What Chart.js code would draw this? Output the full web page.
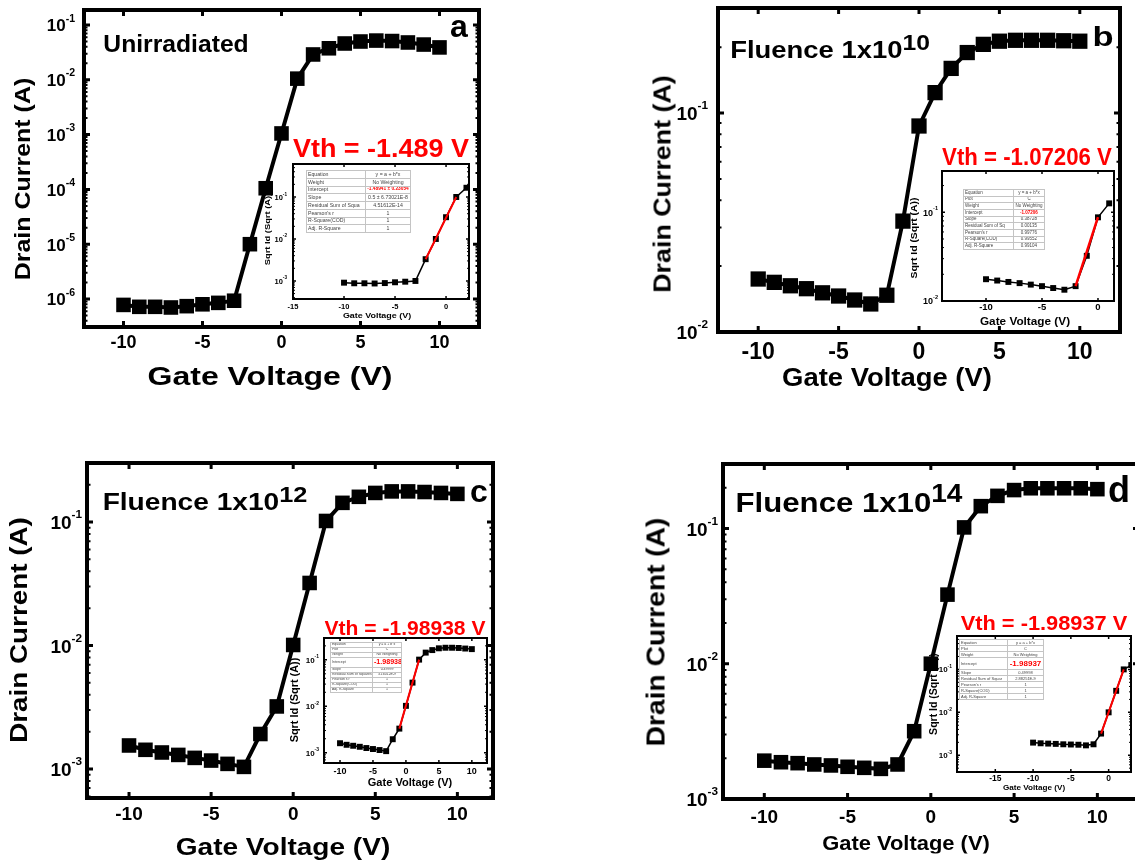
<!DOCTYPE html>
<html>
<head>
<meta charset="utf-8">
<script src="https://cdn.jsdelivr.net/npm/chart.js@4.4.0/dist/chart.umd.min.js"></script>
<style>
html, body { margin: 0; padding: 0; overflow: hidden; }
body { width: 1135px; height: 863px; position: relative; background: #fff; font-family: "Liberation Sans", Arial, sans-serif; }
canvas { position: absolute; left: 0; top: 0; }
.lbl { position: absolute; white-space: nowrap; font-weight: bold; line-height: 1; color: #000; }
.sp { font-size: 0.9em; position: relative; top: -0.39em; }
table.fit { position: absolute; border-collapse: collapse; table-layout: fixed; background: #fff; border: 1.5px solid #444; }
table.fit td { border: 1px solid #c4c4c4; padding: 0 1px; color: #444; white-space: nowrap; overflow: hidden; line-height: 1; }
table.fit td.v { text-align: center; }
</style>
</head>
<body>
<script>
// gate voltage sweep (V)
const gateV = [-10, -9, -8, -7, -6, -5, -4, -3, -2, -1, 0, 1, 2, 3, 4, 5, 6, 7, 8, 9, 10];

// drain current (A), main panels
const idUnirr = [7.8e-7, 7.2e-7, 7.2e-7, 7.0e-7, 7.4e-7, 8.0e-7, 8.5e-7, 9.3e-7, 1.0e-5, 1.05e-4, 1.05e-3, 1.05e-2, 0.029, 0.0376, 0.046, 0.050, 0.052, 0.051, 0.048, 0.044, 0.039];
const idF10 = [0.01746, 0.01686, 0.01626, 0.01577, 0.0151, 0.0146, 0.0140, 0.01343, 0.01472, 0.0321, 0.0873, 0.124, 0.160, 0.189, 0.206, 0.213, 0.215, 0.215, 0.215, 0.214, 0.213];
const idF12 = [1.55e-3, 1.43e-3, 1.36e-3, 1.30e-3, 1.23e-3, 1.17e-3, 1.10e-3, 1.04e-3, 1.92e-3, 3.21e-3, 0.0101, 0.0321, 0.102, 0.143, 0.160, 0.172, 0.177, 0.177, 0.175, 0.172, 0.169];
const idF14 = [1.92e-3, 1.87e-3, 1.84e-3, 1.80e-3, 1.77e-3, 1.73e-3, 1.70e-3, 1.67e-3, 1.80e-3, 3.17e-3, 0.0100, 0.0324, 0.1017, 0.146, 0.174, 0.192, 0.198, 0.198, 0.198, 0.198, 0.195];

// insets: sqrt Id vs gate voltage
const insetVA = [-10, -9, -8, -7, -6, -5, -4, -3, -2, -1, 0, 1, 2];
const insetA = [9.1e-4, 8.8e-4, 8.8e-4, 8.7e-4, 8.9e-4, 9.3e-4, 9.6e-4, 1.0e-3, 3.3e-3, 1.0e-2, 3.3e-2, 0.1, 0.166];
const insetVB = [-10, -9, -8, -7, -6, -5, -4, -3, -2, -1, 0, 1];
const insetB = [0.0176, 0.0170, 0.0164, 0.0159, 0.0153, 0.0147, 0.0140, 0.0134, 0.0147, 0.0323, 0.0877, 0.126];
const insetVC = gateV;
const insetC = [1.6e-3, 1.48e-3, 1.41e-3, 1.34e-3, 1.26e-3, 1.2e-3, 1.14e-3, 1.08e-3, 1.95e-3, 3.3e-3, 0.0102, 0.0323, 0.101, 0.143, 0.162, 0.177, 0.182, 0.182, 0.18, 0.175, 0.17];
const insetVD = [-10, -9, -8, -7, -6, -5, -4, -3, -2, -1, 0, 1, 2, 3];
const insetD = [1.97e-3, 1.9e-3, 1.87e-3, 1.84e-3, 1.8e-3, 1.78e-3, 1.76e-3, 1.7e-3, 1.8e-3, 3.2e-3, 0.01, 0.0317, 0.1, 0.126];

// linear fits (red)
const fitVA = [-2, 1], fitA = [3.3e-3, 0.1];
const fitVB = [-2, 0], fitB = [0.0147, 0.088];
const fitVC = [-1, 2], fitC = [3.3e-3, 0.101];
const fitVD = [-1, 2], fitD = [3.2e-3, 0.1];

// tick labels
const mainXTicks = [-10, -5, 0, 5, 10];
const expsA = [-1, -2, -3, -4, -5, -6];
const expsB = [-1, -2];
const expsCD = [-1, -2, -3];
const insetXTicksA = [-15, -10, -5, 0];
const insetXTicksB = [-10, -5, 0];
const insetXTicksC = [-10, -5, 0, 5, 10];
const insetXTicksD = [-15, -10, -5, 0];

const W = 1150, H = 863;
const FONT = '"Liberation Sans", Arial, sans-serif';

function drawPow(ctx, xr, y, e, size) {
  const s2 = size * 0.62;
  const sup = String(e);
  ctx.textAlign = 'left';
  ctx.textBaseline = 'middle';
  ctx.font = `bold ${s2}px ${FONT}`;
  const w2 = ctx.measureText(sup).width;
  ctx.font = `bold ${size}px ${FONT}`;
  const w1 = ctx.measureText('10').width;
  ctx.fillText('10', xr - w1 - w2, y + size * 0.1);
  ctx.font = `bold ${s2}px ${FONT}`;
  ctx.fillText(sup, xr - w2, y - size * 0.37);
}

const frameAxes = {
  id: 'frameAxes',
  beforeDatasetsDraw(chart, args, o) {
    if (!o.fill) return;
    const a = chart.chartArea, ctx = chart.ctx;
    ctx.save();
    ctx.fillStyle = '#fff';
    ctx.fillRect(a.left, a.top, a.right - a.left, a.bottom - a.top);
    ctx.restore();
  },
  afterDraw(chart, args, o) {
    const ctx = chart.ctx, a = chart.chartArea;
    const xs = chart.scales.x, ys = chart.scales.y;
    ctx.save();
    ctx.strokeStyle = '#000';
    ctx.fillStyle = '#000';

    // minor log ticks
    ctx.lineWidth = o.minorW;
    ctx.beginPath();
    const lo = Math.floor(Math.log10(ys.min)), hi = Math.ceil(Math.log10(ys.max));
    for (let d = lo; d <= hi; d++) {
      for (let k = 2; k <= 9; k++) {
        const v = k * Math.pow(10, d);
        if (v <= ys.min || v >= ys.max) continue;
        const py = ys.getPixelForValue(v);
        ctx.moveTo(a.left, py); ctx.lineTo(a.left + o.minorL, py);
        ctx.moveTo(a.right, py); ctx.lineTo(a.right - o.minorL, py);
      }
    }
    ctx.stroke();

    // major ticks, all four sides, pointing in
    ctx.lineWidth = o.tickW;
    ctx.beginPath();
    o.xTicks.forEach(v => {
      const px = xs.getPixelForValue(v);
      ctx.moveTo(px, a.bottom); ctx.lineTo(px, a.bottom - o.tickL);
      ctx.moveTo(px, a.top); ctx.lineTo(px, a.top + o.tickL);
    });
    o.yExps.forEach(e => {
      const py = ys.getPixelForValue(Math.pow(10, e));
      ctx.moveTo(a.left, py); ctx.lineTo(a.left + o.tickL, py);
      ctx.moveTo(a.right, py); ctx.lineTo(a.right - o.tickL, py);
    });
    ctx.stroke();

    ctx.lineWidth = o.frameW;
    ctx.strokeRect(a.left, a.top, a.right - a.left, a.bottom - a.top);

    // tick labels
    ctx.font = `bold ${o.xFont}px ${FONT}`;
    ctx.textAlign = 'center';
    ctx.textBaseline = 'middle';
    o.xTicks.forEach(v => ctx.fillText(String(v), xs.getPixelForValue(v), a.bottom + o.xOff));
    o.yExps.forEach(e => drawPow(ctx, a.left - o.yGap, ys.getPixelForValue(Math.pow(10, e)), e, o.yFont));
    ctx.restore();
  }
};

function series(xs, ys, color, width, radius) {
  return {
    data: xs.map((x, i) => ({ x: x, y: ys[i] })),
    showLine: true,
    borderColor: color,
    backgroundColor: color,
    borderWidth: width,
    pointStyle: 'rect',
    pointRadius: radius,
    pointHoverRadius: radius,
    pointBorderWidth: 0,
    pointBackgroundColor: color,
    tension: 0
  };
}

function plot(area, xr, yr, sets, ax) {
  const cv = document.createElement('canvas');
  cv.width = W;
  cv.height = H;
  document.body.appendChild(cv);
  return new Chart(cv, {
    type: 'scatter',
    data: { datasets: sets },
    options: {
      responsive: false,
      animation: false,
      devicePixelRatio: 1,
      events: [],
      layout: { autoPadding: false, padding: { left: area[0], top: area[1], right: W - area[2], bottom: H - area[3] } },
      scales: {
        x: { type: 'linear', min: xr[0], max: xr[1], display: false },
        y: { type: 'logarithmic', min: yr[0], max: yr[1], display: false }
      },
      plugins: { legend: { display: false }, tooltip: { enabled: false }, frameAxes: ax }
    },
    plugins: [frameAxes]
  });
}

const p10 = e => Math.pow(10, e);
const mainAx = (yExps, xFont, yFont, xOff, yGap) => ({ xTicks: mainXTicks, yExps, xFont, yFont, xOff, yGap, frameW: 4, tickW: 3, tickL: 6, minorW: 2, minorL: 3.5, fill: false });
const insetAx = (xTicks, yExps, xFont, yFont, xOff, yGap) => ({ xTicks, yExps, xFont, yFont, xOff, yGap, frameW: 2, tickW: 1.5, tickL: 3, minorW: 1, minorL: 2, fill: true });

// main panels
plot([84, 10, 479, 327], [-12.5, 12.5], [p10(-6.511), p10(-0.726)],
  [series(gateV, idUnirr, '#000', 4, 10.3)], mainAx(expsA, 18, 17, 16, 9));
plot([718, 8, 1120, 332], [-12.5, 12.5], [0.01, p10(-0.52)],
  [series(gateV, idF10, '#000', 4, 10.8)], mainAx(expsB, 23, 19, 21, 10));
plot([87, 463, 493, 798], [-12.56, 12.17], [p10(-3.235), p10(-0.522)],
  [series(gateV, idF12, '#000', 4, 10.3)], mainAx(expsCD, 19, 19, 17, 5));
plot([723, 464, 1139, 799], [-12.48, 12.5], [0.001, p10(-0.524)],
  [series(gateV, idF14, '#000', 4, 10.3)], mainAx(expsCD, 19, 19, 19, 5));

// insets
plot([293, 164, 469, 299], [-15, 2.25], [p10(-3.43), p10(-0.214)],
  [series(fitVA, fitA, '#ff0000', 2, 0), series(insetVA, insetA, '#000', 1.5, 4.2)],
  insetAx(insetXTicksA, expsCD, 7.5, 7.5, 8, 6));
plot([942, 171, 1114, 301], [-13.93, 1.43], [0.01, p10(-0.535)],
  [series(fitVB, fitB, '#ff0000', 2.5, 0), series(insetVB, insetB, '#000', 1.5, 4.2)],
  insetAx(insetXTicksB, expsB, 9.5, 9, 6.5, 4));
plot([324, 638, 487, 763], [-12.43, 12.3], [p10(-3.21), p10(-0.53)],
  [series(fitVC, fitC, '#ff0000', 2, 0), series(insetVC, insetC, '#000', 1.5, 4.2)],
  insetAx(insetXTicksC, expsCD, 9, 8, 9, 5));
plot([957, 636, 1131, 772], [-20.07, 2.96], [p10(-3.39), p10(-0.222)],
  [series(fitVD, fitD, '#ff0000', 2, 0), series(insetVD, insetD, '#000', 1.5, 4.2)],
  insetAx(insetXTicksD, expsCD, 8.5, 8, 7, 5));

// text labels, stretched to the widths in the figure
function label(html, cx, cy, size, w, color, rot) {
  const d = document.createElement('div');
  d.className = 'lbl';
  d.innerHTML = html;
  d.style.left = cx + 'px';
  d.style.top = cy + 'px';
  d.style.fontSize = size + 'px';
  if (color) d.style.color = color;
  document.body.appendChild(d);
  const s = w / d.offsetWidth;
  d.style.transform = `translate(-50%,-50%)${rot ? ' rotate(-90deg)' : ''} scaleX(${s})`;
}

const RED = '#ff0000';
// panel a
label('Unirradiated', 175.5, 43.5, 24, 145);
label('a', 459, 25.7, 32, 18);
label('Vth = -1.489 V', 381, 149, 25.6, 176, RED);
label('Drain Current (A)', 23, 179, 22, 202, null, true);
label('Gate Voltage (V)', 269.5, 376, 26, 245);
label('Sqrt Id (Sqrt (A))', 268, 229, 8, 72, null, true);
label('Gate Voltage (V)', 377, 316, 8, 68);
// panel b
label('Fluence 1x10<span class="sp">10</span>', 830, 50, 24, 200);
label('b', 1102.5, 37, 27, 21.7);
label('Vth = -1.07206 V', 1027, 157, 23, 170, RED);
label('Drain Current (A)', 663, 184, 23, 218, null, true);
label('Gate Voltage (V)', 887, 378, 25.6, 210);
label('Sqrt Id (Sqrt (A))', 914, 237.5, 9.5, 81, null, true);
label('Gate Voltage (V)', 1025, 321, 11, 90);
// panel c
label('Fluence 1x10<span class="sp">12</span>', 204.5, 502, 24, 205);
label('c', 479, 490.7, 32, 18);
label('Vth = -1.98938 V', 404.5, 628, 20, 161, RED);
label('Drain Current (A)', 19, 630, 24, 226, null, true);
label('Gate Voltage (V)', 282.5, 847, 24, 215);
label('Sqrt Id (Sqrt (A))', 295, 700, 10, 85, null, true);
label('Gate Voltage (V)', 409.5, 783, 10, 85);
// panel d
label('Fluence 1x10<span class="sp">14</span>', 848.5, 503, 28, 227);
label('d', 1119, 490, 36, 22);
label('Vth = -1.98937 V', 1043.5, 623, 20.5, 167, RED);
label('Drain Current (A)', 656, 632, 25, 229, null, true);
label('Gate Voltage (V)', 906, 842, 21, 168);
label('Sqrt Id (Sqrt (A))', 934, 694, 10, 82, null, true);
label('Gate Voltage (V)', 1034, 788, 8, 62);

// fit result tables
function fitTable(rows, left, top, w, h, col1, fs, redFs, tallRow) {
  const t = document.createElement('table');
  t.className = 'fit';
  t.style.left = left + 'px';
  t.style.top = top + 'px';
  t.style.width = w + 'px';
  t.style.height = h + 'px';
  const units = rows.length + (tallRow ? 1 : 0);
  rows.forEach((r, i) => {
    const tr = document.createElement('tr');
    const isInt = r[0] === 'Intercept';
    tr.style.height = (h / units) * (isInt && tallRow ? 2 : 1) + 'px';
    const a = document.createElement('td');
    a.textContent = r[0];
    a.style.width = col1 + 'px';
    a.style.fontSize = fs + 'px';
    const b = document.createElement('td');
    b.className = 'v';
    b.textContent = r[1];
    b.style.fontSize = (isInt ? redFs : fs) + 'px';
    if (isInt) { b.style.color = RED; b.style.fontWeight = 'bold'; }
    tr.appendChild(a); tr.appendChild(b);
    t.appendChild(tr);
  });
  document.body.appendChild(t);
}

fitTable([['Equation', 'y = a + b*x'], ['Weight', 'No Weighting'], ['Intercept', '-1.48941 ± 0.23054'], ['Slope', '0.5 ± 6.73021E-8'],
  ['Residual Sum of Squa', '4.51612E-14'], ["Pearson's r", '1'], ['R-Square(COD)', '1'], ['Adj. R-Square', '1']],
  306, 170, 105, 62, 56, 5.2, 4.8, false);
fitTable([['Equation', 'y = a + b*x'], ['Plot', 'C'], ['Weight', 'No Weighting'], ['Intercept', '-1.07206'], ['Slope', '0.38728'],
  ['Residual Sum of Sq', '0.00135'], ["Pearson's r", '0.99776'], ['R-Square(COD)', '0.99552'], ['Adj. R-Square', '0.99104']],
  963, 189, 82, 60, 47, 4.5, 4.5, false);
fitTable([['Equation', 'y = a + b*x'], ['Plot', 'C'], ['Weight', 'No Weighting'], ['Intercept', '-1.98938'], ['Slope', '0.49999'],
  ['Residual Sum of Squares', '3.16012E-9'], ["Pearson's r", '1'], ['R-Square(COD)', '1'], ['Adj. R-Square', '1']],
  330, 642, 72, 50, 39, 3.5, 7.1, true);
fitTable([['Equation', 'y = a + b*x'], ['Plot', 'C'], ['Weight', 'No Weighting'], ['Intercept', '-1.98937'], ['Slope', '0.49998'],
  ['Residual Sum of Squar', '2.88251E-9'], ["Pearson's r", '1'], ['R-Square(COD)', '1'], ['Adj. R-Square', '1']],
  959, 639, 85, 60, 45, 4, 8, true);
</script>
</body>
</html>
